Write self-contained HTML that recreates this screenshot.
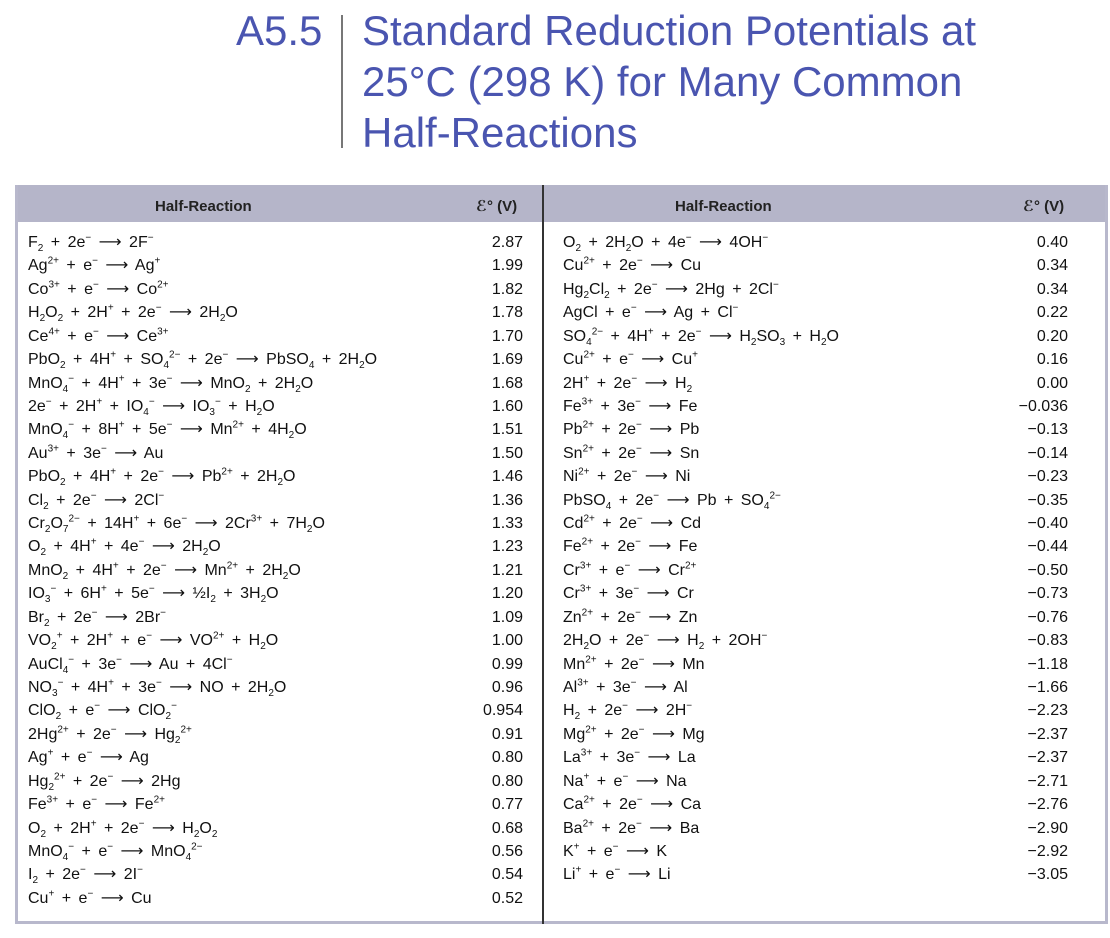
<!DOCTYPE html>
<html><head><meta charset="utf-8"><style>
body{margin:0;width:1110px;height:938px;background:#fff;position:relative;font-family:"Liberation Sans","DejaVu Sans",sans-serif;overflow:hidden}
.t{position:absolute;color:#4a55b0;font-size:42px;line-height:51px;white-space:nowrap}
#box{position:absolute;left:15px;top:185px;width:1087px;height:736px;border:3px solid #b8b8cc;border-top:0}
#hdr{position:absolute;left:15px;top:185px;width:1093px;height:37px;background:#b5b5c9}
.h{position:absolute;top:185px;line-height:44px;font-size:15px;font-weight:bold;color:#222}
#div{position:absolute;left:542px;top:185px;width:2px;height:739px;background:#333}
.col{position:absolute;top:231px;font-size:16px;line-height:23.43px;color:#111;white-space:nowrap;word-spacing:3px}
.col div{position:relative;height:23.43px}
.v{position:absolute;right:0;top:0;word-spacing:0}
sub,sup{font-size:10px;line-height:0}
</style></head><body>
<div class="t" style="left:236px;top:5px">A5.5</div>
<div style="position:absolute;left:341px;top:15px;width:2px;height:133px;background:#777"></div>
<div class="t" style="left:362px;top:5px">Standard Reduction Potentials at<br>25°C (298 K) for Many Common<br>Half-Reactions</div>
<div id="hdr"></div>
<div id="box"></div>
<div class="h" style="left:155px">Half-Reaction</div>
<div class="h" style="left:476px">ℰ° (V)</div>
<div class="h" style="left:675px">Half-Reaction</div>
<div class="h" style="left:1023px">ℰ° (V)</div>
<div id="div"></div>
<div class="col" style="left:28px;width:495px">
<div>F<sub>2</sub> + 2e<sup>−</sup> ⟶ 2F<sup>−</sup><span class="v">2.87</span></div>
<div>Ag<sup>2+</sup> + e<sup>−</sup> ⟶ Ag<sup>+</sup><span class="v">1.99</span></div>
<div>Co<sup>3+</sup> + e<sup>−</sup> ⟶ Co<sup>2+</sup><span class="v">1.82</span></div>
<div>H<sub>2</sub>O<sub>2</sub> + 2H<sup>+</sup> + 2e<sup>−</sup> ⟶ 2H<sub>2</sub>O<span class="v">1.78</span></div>
<div>Ce<sup>4+</sup> + e<sup>−</sup> ⟶ Ce<sup>3+</sup><span class="v">1.70</span></div>
<div>PbO<sub>2</sub> + 4H<sup>+</sup> + SO<sub>4</sub><sup>2−</sup> + 2e<sup>−</sup> ⟶ PbSO<sub>4</sub> + 2H<sub>2</sub>O<span class="v">1.69</span></div>
<div>MnO<sub>4</sub><sup>−</sup> + 4H<sup>+</sup> + 3e<sup>−</sup> ⟶ MnO<sub>2</sub> + 2H<sub>2</sub>O<span class="v">1.68</span></div>
<div>2e<sup>−</sup> + 2H<sup>+</sup> + IO<sub>4</sub><sup>−</sup> ⟶ IO<sub>3</sub><sup>−</sup> + H<sub>2</sub>O<span class="v">1.60</span></div>
<div>MnO<sub>4</sub><sup>−</sup> + 8H<sup>+</sup> + 5e<sup>−</sup> ⟶ Mn<sup>2+</sup> + 4H<sub>2</sub>O<span class="v">1.51</span></div>
<div>Au<sup>3+</sup> + 3e<sup>−</sup> ⟶ Au<span class="v">1.50</span></div>
<div>PbO<sub>2</sub> + 4H<sup>+</sup> + 2e<sup>−</sup> ⟶ Pb<sup>2+</sup> + 2H<sub>2</sub>O<span class="v">1.46</span></div>
<div>Cl<sub>2</sub> + 2e<sup>−</sup> ⟶ 2Cl<sup>−</sup><span class="v">1.36</span></div>
<div>Cr<sub>2</sub>O<sub>7</sub><sup>2−</sup> + 14H<sup>+</sup> + 6e<sup>−</sup> ⟶ 2Cr<sup>3+</sup> + 7H<sub>2</sub>O<span class="v">1.33</span></div>
<div>O<sub>2</sub> + 4H<sup>+</sup> + 4e<sup>−</sup> ⟶ 2H<sub>2</sub>O<span class="v">1.23</span></div>
<div>MnO<sub>2</sub> + 4H<sup>+</sup> + 2e<sup>−</sup> ⟶ Mn<sup>2+</sup> + 2H<sub>2</sub>O<span class="v">1.21</span></div>
<div>IO<sub>3</sub><sup>−</sup> + 6H<sup>+</sup> + 5e<sup>−</sup> ⟶ ½I<sub>2</sub> + 3H<sub>2</sub>O<span class="v">1.20</span></div>
<div>Br<sub>2</sub> + 2e<sup>−</sup> ⟶ 2Br<sup>−</sup><span class="v">1.09</span></div>
<div>VO<sub>2</sub><sup>+</sup> + 2H<sup>+</sup> + e<sup>−</sup> ⟶ VO<sup>2+</sup> + H<sub>2</sub>O<span class="v">1.00</span></div>
<div>AuCl<sub>4</sub><sup>−</sup> + 3e<sup>−</sup> ⟶ Au + 4Cl<sup>−</sup><span class="v">0.99</span></div>
<div>NO<sub>3</sub><sup>−</sup> + 4H<sup>+</sup> + 3e<sup>−</sup> ⟶ NO + 2H<sub>2</sub>O<span class="v">0.96</span></div>
<div>ClO<sub>2</sub> + e<sup>−</sup> ⟶ ClO<sub>2</sub><sup>−</sup><span class="v">0.954</span></div>
<div>2Hg<sup>2+</sup> + 2e<sup>−</sup> ⟶ Hg<sub>2</sub><sup>2+</sup><span class="v">0.91</span></div>
<div>Ag<sup>+</sup> + e<sup>−</sup> ⟶ Ag<span class="v">0.80</span></div>
<div>Hg<sub>2</sub><sup>2+</sup> + 2e<sup>−</sup> ⟶ 2Hg<span class="v">0.80</span></div>
<div>Fe<sup>3+</sup> + e<sup>−</sup> ⟶ Fe<sup>2+</sup><span class="v">0.77</span></div>
<div>O<sub>2</sub> + 2H<sup>+</sup> + 2e<sup>−</sup> ⟶ H<sub>2</sub>O<sub>2</sub><span class="v">0.68</span></div>
<div>MnO<sub>4</sub><sup>−</sup> + e<sup>−</sup> ⟶ MnO<sub>4</sub><sup>2−</sup><span class="v">0.56</span></div>
<div>I<sub>2</sub> + 2e<sup>−</sup> ⟶ 2I<sup>−</sup><span class="v">0.54</span></div>
<div>Cu<sup>+</sup> + e<sup>−</sup> ⟶ Cu<span class="v">0.52</span></div>
</div>
<div class="col" style="left:563px;width:505px">
<div>O<sub>2</sub> + 2H<sub>2</sub>O + 4e<sup>−</sup> ⟶ 4OH<sup>−</sup><span class="v">0.40</span></div>
<div>Cu<sup>2+</sup> + 2e<sup>−</sup> ⟶ Cu<span class="v">0.34</span></div>
<div>Hg<sub>2</sub>Cl<sub>2</sub> + 2e<sup>−</sup> ⟶ 2Hg + 2Cl<sup>−</sup><span class="v">0.34</span></div>
<div>AgCl + e<sup>−</sup> ⟶ Ag + Cl<sup>−</sup><span class="v">0.22</span></div>
<div>SO<sub>4</sub><sup>2−</sup> + 4H<sup>+</sup> + 2e<sup>−</sup> ⟶ H<sub>2</sub>SO<sub>3</sub> + H<sub>2</sub>O<span class="v">0.20</span></div>
<div>Cu<sup>2+</sup> + e<sup>−</sup> ⟶ Cu<sup>+</sup><span class="v">0.16</span></div>
<div>2H<sup>+</sup> + 2e<sup>−</sup> ⟶ H<sub>2</sub><span class="v">0.00</span></div>
<div>Fe<sup>3+</sup> + 3e<sup>−</sup> ⟶ Fe<span class="v">−0.036</span></div>
<div>Pb<sup>2+</sup> + 2e<sup>−</sup> ⟶ Pb<span class="v">−0.13</span></div>
<div>Sn<sup>2+</sup> + 2e<sup>−</sup> ⟶ Sn<span class="v">−0.14</span></div>
<div>Ni<sup>2+</sup> + 2e<sup>−</sup> ⟶ Ni<span class="v">−0.23</span></div>
<div>PbSO<sub>4</sub> + 2e<sup>−</sup> ⟶ Pb + SO<sub>4</sub><sup>2−</sup><span class="v">−0.35</span></div>
<div>Cd<sup>2+</sup> + 2e<sup>−</sup> ⟶ Cd<span class="v">−0.40</span></div>
<div>Fe<sup>2+</sup> + 2e<sup>−</sup> ⟶ Fe<span class="v">−0.44</span></div>
<div>Cr<sup>3+</sup> + e<sup>−</sup> ⟶ Cr<sup>2+</sup><span class="v">−0.50</span></div>
<div>Cr<sup>3+</sup> + 3e<sup>−</sup> ⟶ Cr<span class="v">−0.73</span></div>
<div>Zn<sup>2+</sup> + 2e<sup>−</sup> ⟶ Zn<span class="v">−0.76</span></div>
<div>2H<sub>2</sub>O + 2e<sup>−</sup> ⟶ H<sub>2</sub> + 2OH<sup>−</sup><span class="v">−0.83</span></div>
<div>Mn<sup>2+</sup> + 2e<sup>−</sup> ⟶ Mn<span class="v">−1.18</span></div>
<div>Al<sup>3+</sup> + 3e<sup>−</sup> ⟶ Al<span class="v">−1.66</span></div>
<div>H<sub>2</sub> + 2e<sup>−</sup> ⟶ 2H<sup>−</sup><span class="v">−2.23</span></div>
<div>Mg<sup>2+</sup> + 2e<sup>−</sup> ⟶ Mg<span class="v">−2.37</span></div>
<div>La<sup>3+</sup> + 3e<sup>−</sup> ⟶ La<span class="v">−2.37</span></div>
<div>Na<sup>+</sup> + e<sup>−</sup> ⟶ Na<span class="v">−2.71</span></div>
<div>Ca<sup>2+</sup> + 2e<sup>−</sup> ⟶ Ca<span class="v">−2.76</span></div>
<div>Ba<sup>2+</sup> + 2e<sup>−</sup> ⟶ Ba<span class="v">−2.90</span></div>
<div>K<sup>+</sup> + e<sup>−</sup> ⟶ K<span class="v">−2.92</span></div>
<div>Li<sup>+</sup> + e<sup>−</sup> ⟶ Li<span class="v">−3.05</span></div>
</div>
</body></html>
